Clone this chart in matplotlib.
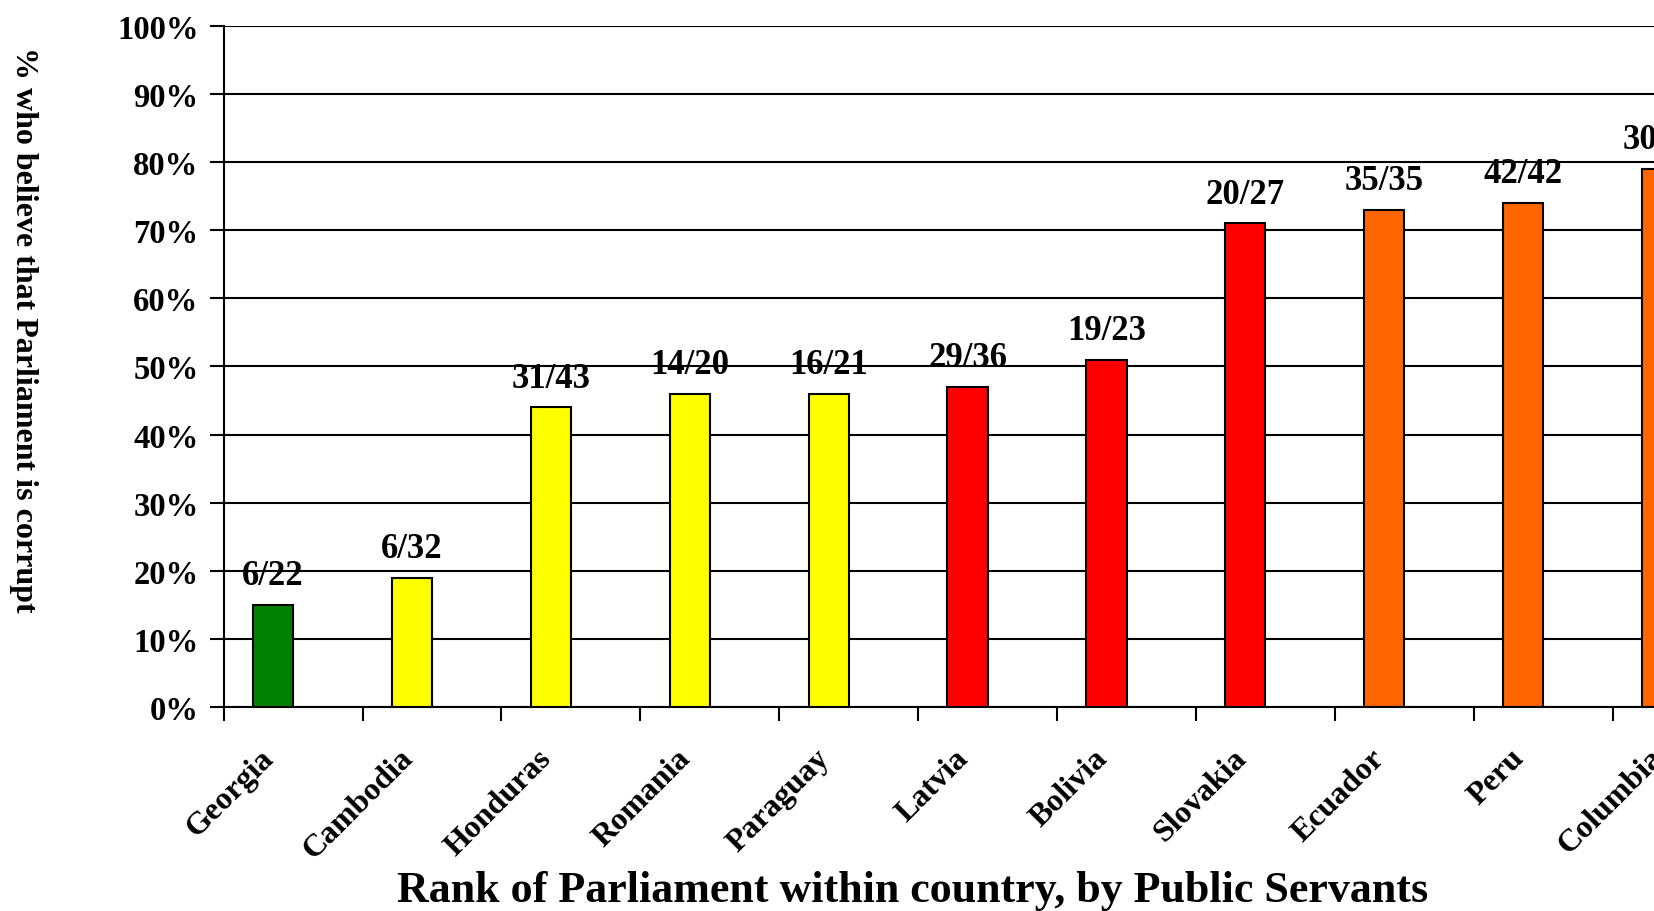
import matplotlib.pyplot as plt
import numpy as np

# Survey data: share of public servants who believe Parliament is corrupt
countries = ['Georgia', 'Cambodia', 'Honduras', 'Romania', 'Paraguay', 'Latvia',
             'Bolivia', 'Slovakia', 'Ecuador', 'Peru', 'Columbia']
pct_corrupt = [15, 19, 44, 46, 46, 47, 51, 71, 73, 74, 79]
rank_labels = ['6/22', '6/32', '31/43', '14/20', '16/21', '29/36',
               '19/23', '20/27', '35/35', '42/42', '30/30']
bar_colors = ['#008000', '#FFFF00', '#FFFF00', '#FFFF00', '#FFFF00', '#FF0000',
              '#FF0000', '#FF0000', '#FF6600', '#FF6600', '#FF6600']

plt.rcParams['font.family'] = ['Liberation Serif', 'DejaVu Serif']
plt.rcParams['font.weight'] = 'bold'

fig = plt.figure(figsize=(16.54, 9.12), dpi=100)
# the plot area runs past the right edge of the page
ax = fig.add_axes([0.1352, 0.2235, 0.9238, 0.7472])

x = np.arange(len(countries))
bar_w = 0.289
bar_x = x - bar_w / 2
ax.bar(bar_x, pct_corrupt, width=bar_w, color=bar_colors,
       edgecolor='black', linewidth=1.5, zorder=3)

for bx, v, lab in zip(bar_x, pct_corrupt, rank_labels):
    ax.annotate(lab, (bx, v), xytext=(0, 9), textcoords='offset points',
                ha='center', va='bottom', fontsize=25, fontweight='bold')

ax.set_xlim(-0.5, len(countries) - 0.5)
ax.set_ylim(0, 100)
ax.set_yticks(range(0, 101, 10))
ax.set_yticklabels([f'{t}%' for t in range(0, 101, 10)], fontsize=23.5)
ax.yaxis.grid(True, color='black', linewidth=1.5, zorder=0)

# boundary ticks between categories; rotated names sit just left of each bar
ax.set_xticks(np.arange(-0.5, len(countries), 1.0), minor=True)
ax.set_xticks(bar_x - 0.10)
ax.set_xticklabels(countries, rotation=45, ha='right', rotation_mode='anchor',
                   fontsize=23)
ax.tick_params(axis='x', which='major', length=0, pad=26)
ax.tick_params(axis='x', which='minor', length=10, width=1.5)
ax.tick_params(axis='y', length=10, width=1.5, pad=8)

for side in ['top', 'right']:
    ax.spines[side].set_visible(False)
for side in ['left', 'bottom']:
    ax.spines[side].set_linewidth(1.5)

fig.text(0.014, 0.638, '% who believe that Parliament is corrupt',
         rotation=270, ha='center', va='center', fontsize=23, fontweight='bold')
fig.text(0.552, 0.011, 'Rank of Parliament within country, by Public Servants',
         ha='center', va='baseline', fontsize=31.7, fontweight='bold')

fig.savefig('out.png', dpi=100)
